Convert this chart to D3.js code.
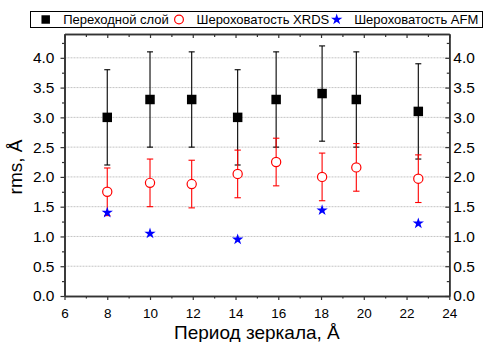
<!DOCTYPE html>
<html>
<head>
<meta charset="utf-8">
<script src="https://cdn.jsdelivr.net/npm/d3@7/dist/d3.min.js"></script>
<style>
  body { margin: 0; background: #fff; }
  svg { display: block; font-family: "Liberation Sans", Arial, sans-serif; }
</style>
</head>
<body>
<svg id="chart" width="484" height="342"></svg>
<script>
// periods of the mirror (x), measured on the picture
const periods = [8, 10, 11.95, 14.1, 15.9, 18.05, 19.65, 22.55];
// transition layer (black squares) and its error
const layerRms = [3.0, 3.3, 3.3, 3.0, 3.3, 3.4, 3.3, 3.1];
const layerErr = [0.8, 0.8, 0.8, 0.8, 0.8, 0.8, 0.8, 0.8];
// XRDS roughness (red circles) and its error
const xrdsRms = [1.75, 1.9, 1.88, 2.05, 2.25, 2.0, 2.16, 1.97];
const xrdsErr = [0.4, 0.4, 0.4, 0.4, 0.4, 0.4, 0.4, 0.4];
// AFM roughness (blue stars)
const afmPeriods = [8, 10, 14.1, 18.05, 22.55];
const afmRms = [1.4, 1.05, 0.95, 1.44, 1.22];

const xTicks = [6, 8, 10, 12, 14, 16, 18, 20, 22, 24];
const xMinor = [7, 9, 11, 13, 15, 17, 19, 21, 23];
const yTicks = [0, 0.5, 1, 1.5, 2, 2.5, 3, 3.5, 4];
const yMinor = [0.25, 0.75, 1.25, 1.75, 2.25, 2.75, 3.25, 3.75, 4.25];

const legendNames = ['Переходной слой', 'Шероховатость XRDS', 'Шероховатость AFM'];

const svg = d3.select('#chart');
const plotL = 64.5, plotR = 449.3, plotT = 34, plotB = 296;

const x = d3.scaleLinear().domain([6, 24]).range([plotL, plotR]);
const y = d3.scaleLinear().domain([0, 4.4]).range([plotB, plotT]);

// grid lines
svg.append('g').selectAll('line')
  .data(yTicks.filter(v => v > 0))
  .enter().append('line')
  .attr('x1', plotL).attr('x2', plotR)
  .attr('y1', d => y(d)).attr('y2', d => y(d))
  .attr('stroke', '#c4c4c4').attr('stroke-width', 1)
  .attr('stroke-dasharray', '2,1');

function styleAxis(g, fs) {
  g.select('.domain').attr('stroke', '#333').attr('stroke-width', 1.6);
  g.selectAll('.tick line').attr('stroke', '#333').attr('stroke-width', 1.2);
  g.selectAll('text').attr('fill', '#000').style('font-size', fs + 'px')
    .style('font-family', '"Liberation Sans", Arial, sans-serif');
}

// bottom axis
svg.append('g').attr('transform', `translate(0,${plotB})`)
  .call(d3.axisBottom(x).tickValues(xMinor).tickSize(2.5).tickSizeOuter(0).tickFormat(''))
  .call(g => styleAxis(g, 13));
svg.append('g').attr('transform', `translate(0,${plotB})`)
  .call(d3.axisBottom(x).tickValues(xTicks).tickSize(4).tickPadding(8).tickSizeOuter(0).tickFormat(d3.format('d')))
  .call(g => styleAxis(g, 13.5));

// top axis (ticks pointing down)
svg.append('g').attr('transform', `translate(0,${plotT})`)
  .call(d3.axisTop(x).tickValues(xMinor).tickSize(-3).tickSizeOuter(0).tickFormat(''))
  .call(g => styleAxis(g, 13));
svg.append('g').attr('transform', `translate(0,${plotT})`)
  .call(d3.axisTop(x).tickValues(xTicks).tickSize(-4).tickSizeOuter(0).tickFormat(''))
  .call(g => styleAxis(g, 13));

// left axis
svg.append('g').attr('transform', `translate(${plotL},0)`)
  .call(d3.axisLeft(y).tickValues(yMinor).tickSize(2.5).tickSizeOuter(0).tickFormat(''))
  .call(g => styleAxis(g, 15));
svg.append('g').attr('transform', `translate(${plotL},0)`)
  .call(d3.axisLeft(y).tickValues(yTicks).tickSize(4).tickPadding(6).tickSizeOuter(0).tickFormat(d3.format('.1f')))
  .call(g => styleAxis(g, 15.5));

// right axis (ticks pointing left)
svg.append('g').attr('transform', `translate(${plotR},0)`)
  .call(d3.axisRight(y).tickValues(yMinor).tickSize(-2.5).tickSizeOuter(0).tickFormat(''))
  .call(g => styleAxis(g, 15));
svg.append('g').attr('transform', `translate(${plotR},0)`)
  .call(d3.axisRight(y).tickValues(yTicks).tickSize(-4).tickPadding(4).tickSizeOuter(0).tickFormat(d3.format('.1f')))
  .call(g => styleAxis(g, 15.5));

// error bars
function errorBars(xs, vals, errs, color, cap) {
  const g = svg.append('g').attr('stroke', color).attr('stroke-width', 1.1);
  xs.forEach((p, i) => {
    const cx = x(p), y1 = y(vals[i] - errs[i]), y2 = y(vals[i] + errs[i]);
    g.append('line').attr('x1', cx).attr('x2', cx).attr('y1', y1).attr('y2', y2);
    g.append('line').attr('x1', cx - cap).attr('x2', cx + cap).attr('y1', y1).attr('y2', y1);
    g.append('line').attr('x1', cx - cap).attr('x2', cx + cap).attr('y1', y2).attr('y2', y2);
  });
}

errorBars(periods, layerRms, layerErr, '#000', 3);
svg.append('g').selectAll('path')
  .data(periods)
  .enter().append('path')
  .attr('transform', (d, i) => `translate(${x(d)},${y(layerRms[i])})`)
  .attr('d', d3.symbol(d3.symbolSquare, 90))
  .attr('fill', '#000');

errorBars(periods, xrdsRms, xrdsErr, '#ff0000', 3.2);
svg.append('g').selectAll('circle')
  .data(periods)
  .enter().append('circle')
  .attr('cx', d => x(d)).attr('cy', (d, i) => y(xrdsRms[i]))
  .attr('r', 4.6)
  .attr('fill', '#fff').attr('stroke', '#ff0000').attr('stroke-width', 1.2);

svg.append('g').selectAll('path')
  .data(afmPeriods)
  .enter().append('path')
  .attr('transform', (d, i) => `translate(${x(d)},${y(afmRms[i])})`)
  .attr('d', d3.symbol(d3.symbolStar, 40))
  .attr('fill', '#0000ff');

// axis titles
svg.append('text')
  .attr('x', (plotL + plotR) / 2).attr('y', 339)
  .attr('text-anchor', 'middle')
  .style('font-size', '19px')
  .text('Период зеркала, Å');

svg.append('text')
  .attr('transform', `translate(22,${(plotT + plotB) / 2 + 2}) rotate(-90)`)
  .attr('text-anchor', 'middle')
  .style('font-size', '19px')
  .text('rms, Å');

// legend
const legend = svg.append('g');
legend.append('rect')
  .attr('x', 30.5).attr('y', 11.5).attr('width', 452).attr('height', 16)
  .attr('fill', '#fff').attr('stroke', '#000').attr('stroke-width', 1);

const legX = [45.7, 179, 336.7];
legend.append('path')
  .attr('transform', `translate(${legX[0]},19.5)`)
  .attr('d', d3.symbol(d3.symbolSquare, 72)).attr('fill', '#000');
legend.append('circle')
  .attr('cx', legX[1]).attr('cy', 19.5).attr('r', 4.4)
  .attr('fill', '#fff').attr('stroke', '#ff0000').attr('stroke-width', 1.2);
legend.append('path')
  .attr('transform', `translate(${legX[2]},19.5)`)
  .attr('d', d3.symbol(d3.symbolStar, 40)).attr('fill', '#0000ff');

legend.selectAll('text.leg')
  .data(legendNames)
  .enter().append('text')
  .attr('class', 'leg')
  .attr('x', (d, i) => legX[i] + 17.5)
  .attr('y', 24)
  .style('font-size', '13px')
  .text(d => d);
</script>
</body>
</html>
